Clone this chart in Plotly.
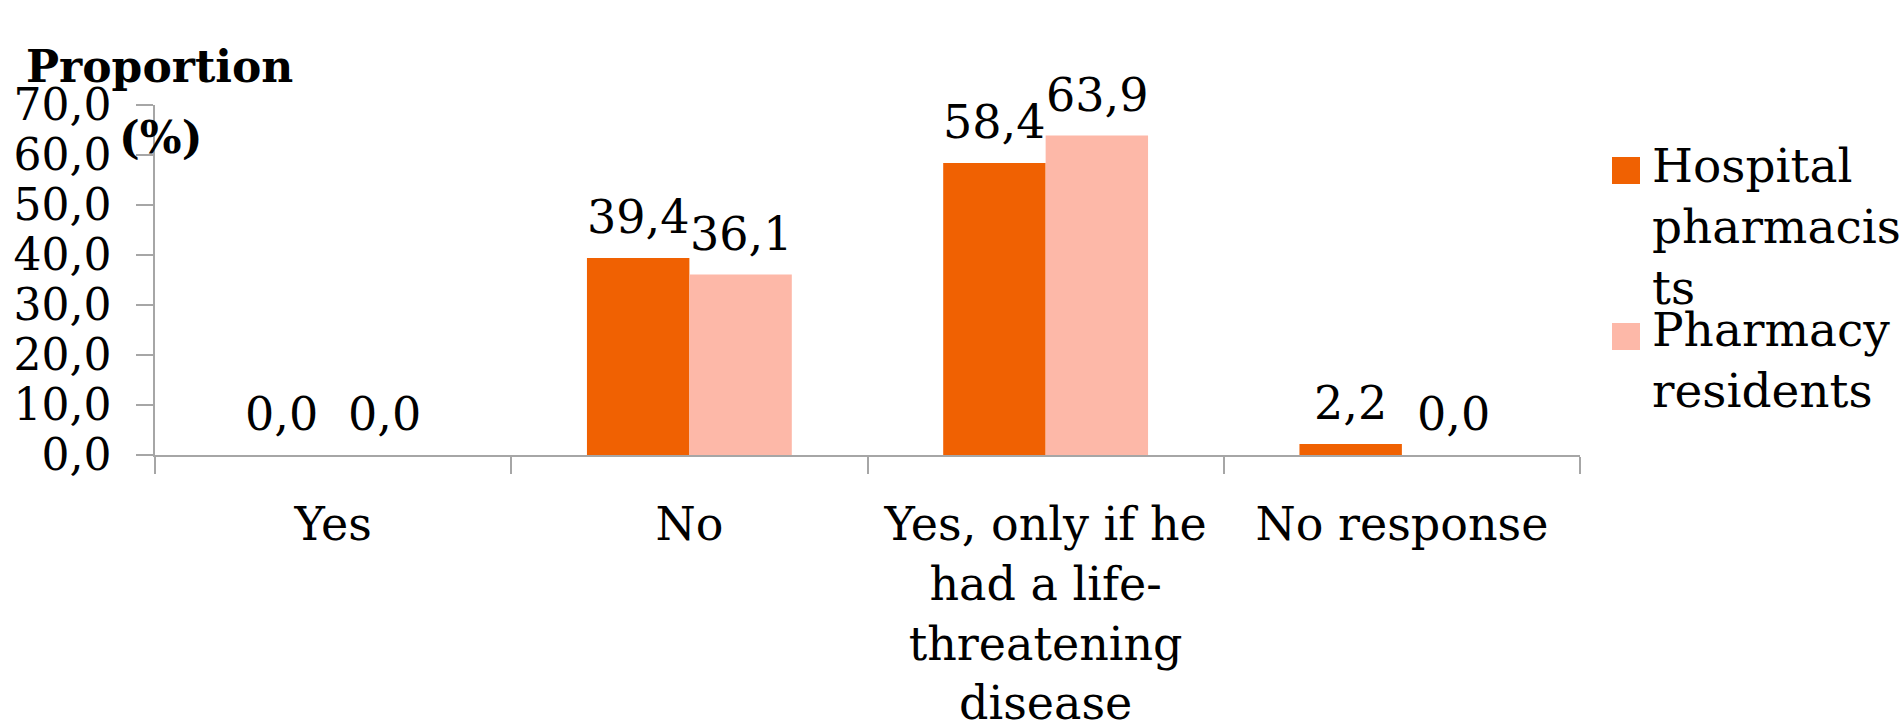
import plotly.graph_objects as go

categories = ["Yes", "No", "Yes, only if he<br>had a life-<br>threatening<br>disease", "No response"]
series_names = ["Hospital pharmacists", "Pharmacy residents"]
legend_labels = ["Hospital<br>pharmacis<br>ts", "Pharmacy<br>residents"]
hospital = [0.0, 39.4, 58.4, 2.2]
residents = [0.0, 36.1, 63.9, 0.0]
y_ticks = [0, 10, 20, 30, 40, 50, 60, 70]

colors = ["#F06102", "#FDB8A8"]
FONT = "DejaVu Serif"
W, H = 1903, 720
L, R, T, B = 155, 323, 105, 265
BARGAP = 0.425

fig = go.Figure()
for name, vals, col in zip(series_names, [hospital, residents], colors):
    fig.add_trace(go.Bar(name=name, x=categories, y=vals, marker=dict(color=col, line=dict(width=0)),
                         showlegend=False))

plot_w = W - L - R
cat_w = plot_w / len(categories)
bar_w = cat_w * (1 - BARGAP) / 2
offs = [-bar_w / 2, bar_w / 2]

annotations = []
for k, vals in enumerate([hospital, residents]):
    for c, v in zip(categories, vals):
        annotations.append(dict(x=c, y=v, xref="x", yref="y", text=f"{v:.1f}".replace(".", ","),
                                showarrow=False, xshift=offs[k], yanchor="bottom", yshift=12,
                                font=dict(family=FONT, size=46, color="#000")))

plot_h = H - T - B
def px_x(p):
    return (p - L) / plot_w
def px_y(q):
    return (H - B - q) / plot_h

annotations.append(dict(x=px_x(159), y=px_y(66), xref="paper", yref="paper", text="<b>Proportion</b>",
                        showarrow=False, xanchor="center", yanchor="middle",
                        font=dict(family=FONT, size=44, color="#000")))
annotations.append(dict(x=px_x(160), y=px_y(137), xref="paper", yref="paper", text="<b>(%)</b>",
                        showarrow=False, xanchor="center", yanchor="middle",
                        font=dict(family=FONT, size=44, color="#000")))

# legend
shapes = []
sq_tops = [157, 323]
txt_tops = [136, 300]
for lab, col, st, tt in zip(legend_labels, colors, sq_tops, txt_tops):
    shapes.append(dict(type="rect", xref="paper", yref="paper", x0=px_x(1612), x1=px_x(1640),
                       y0=px_y(st + 27), y1=px_y(st), fillcolor=col, line=dict(width=0)))
    annotations.append(dict(x=px_x(1650), y=px_y(tt), xref="paper", yref="paper", text=lab,
                            showarrow=False, xanchor="left", yanchor="top", align="left",
                            font=dict(family=FONT, size=47, color="#000")))

fig.update_layout(
    width=W, height=H,
    margin=dict(l=L, r=R, t=T, b=B, pad=0, autoexpand=False),
    paper_bgcolor="white", plot_bgcolor="white",
    barmode="group", bargap=BARGAP, bargroupgap=0,
    separators=", ",
    font=dict(family=FONT, size=46, color="#000"),
    showlegend=False,
    annotations=annotations,
    shapes=shapes,
    xaxis=dict(showline=True, linecolor="#A6A6A6", linewidth=1.5, ticks="outside", ticklen=17,
               tickcolor="#A6A6A6", tickwidth=1.5, tickson="boundaries", showgrid=False, automargin=False,
               tickfont=dict(family=FONT, size=46, color="#000"), ticklabelstandoff=28),
    yaxis=dict(range=[0, 70], tickvals=y_ticks, tickformat=".1f", showline=True, linecolor="#A6A6A6",
               linewidth=1.5, ticks="outside", ticklen=17, tickcolor="#A6A6A6", tickwidth=1.5,
               showgrid=False, zeroline=False, automargin=False,
               tickfont=dict(family=FONT, size=44, color="#000"), ticklabelstandoff=16),
)

fig.write_html("out.html")
